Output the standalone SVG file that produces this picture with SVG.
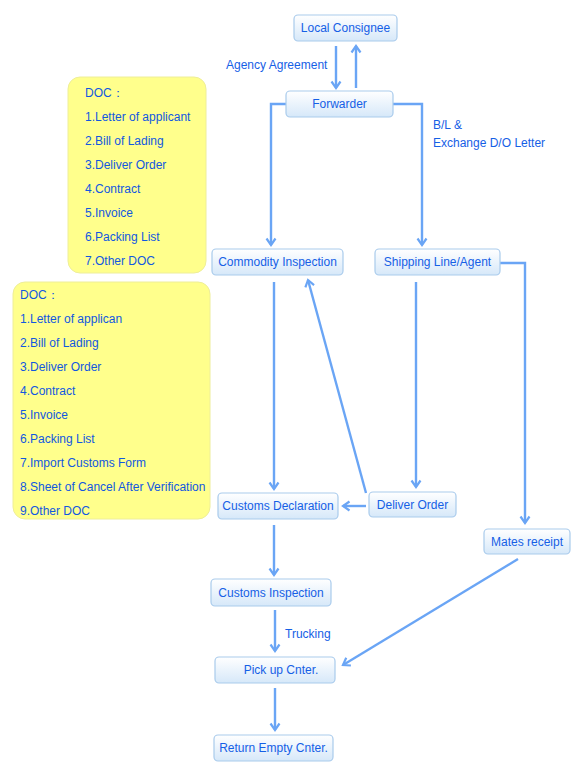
<svg xmlns="http://www.w3.org/2000/svg" width="582" height="779" viewBox="0 0 582 779">
<defs>
<linearGradient id="ng" x1="0" y1="0" x2="0" y2="1">
<stop offset="0" stop-color="#ffffff"/>
<stop offset="1" stop-color="#d6e8f9"/>
</linearGradient>
<marker id="ah" markerWidth="12" markerHeight="12" refX="9" refY="6" orient="auto" markerUnits="userSpaceOnUse">
<path d="M2.5,1.5 L9,6 L2.5,10.5" fill="none" stroke="#6aa5f5" stroke-width="2.2"/>
</marker>
<style>
.node rect{fill:url(#ng);stroke:#a9cbec;stroke-width:1.2}
.node text{font-family:"Liberation Sans",Arial,sans-serif;font-size:12px;fill:#1560e6;text-anchor:middle}
.doc rect{fill:#ffff8c;stroke:#eeee99;stroke-width:1}
.doc text{font-family:"Liberation Sans",Arial,sans-serif;font-size:12px;fill:#1158e0}
.lbl{font-family:"Liberation Sans",Arial,sans-serif;font-size:12px;fill:#1560e6}
.conn path{fill:none;stroke:#6aa5f5;stroke-width:2.4}
</style>
</defs>
<rect width="582" height="779" fill="#ffffff"/>

<g id="doc1" class="doc">
<rect x="68" y="77" width="138" height="196" rx="12" ry="12"/>
<text x="85" y="97">DOC：</text>
<text x="85" y="121">1.Letter of applicant</text>
<text x="85" y="145">2.Bill of Lading</text>
<text x="85" y="169">3.Deliver Order</text>
<text x="85" y="193">4.Contract</text>
<text x="85" y="217">5.Invoice</text>
<text x="85" y="241">6.Packing List</text>
<text x="85" y="265">7.Other DOC</text>
</g>

<g id="doc2" class="doc">
<rect x="13" y="282" width="197" height="237" rx="12" ry="12"/>
<text x="20" y="299">DOC：</text>
<text x="20" y="323">1.Letter of applican</text>
<text x="20" y="347">2.Bill of Lading</text>
<text x="20" y="371">3.Deliver Order</text>
<text x="20" y="395">4.Contract</text>
<text x="20" y="419">5.Invoice</text>
<text x="20" y="443">6.Packing List</text>
<text x="20" y="467">7.Import Customs Form</text>
<text x="20" y="491">8.Sheet of Cancel After Verification</text>
<text x="20" y="515">9.Other DOC</text>
</g>

<g id="connectors" class="conn">
<path d="M336,46 V88" marker-end="url(#ah)"/>
<path d="M356,88 V46" marker-end="url(#ah)"/>
<path d="M286,104 H271 V245" marker-end="url(#ah)"/>
<path d="M393,104 H422 V245" marker-end="url(#ah)"/>
<path d="M500,263 H525 V523" marker-end="url(#ah)"/>
<path d="M274,282 V489" marker-end="url(#ah)"/>
<path d="M416,282 V487" marker-end="url(#ah)"/>
<path d="M366,493 L308,280" marker-end="url(#ah)"/>
<path d="M366,506 H343" marker-end="url(#ah)"/>
<path d="M274,525 V575" marker-end="url(#ah)"/>
<path d="M275,610 V651" marker-end="url(#ah)"/>
<path d="M518,559 L343,665" marker-end="url(#ah)"/>
<path d="M275,688 V730" marker-end="url(#ah)"/>
</g>

<text class="lbl" x="226" y="69">Agency Agreement</text>
<text class="lbl" x="433" y="129">B/L &amp;</text>
<text class="lbl" x="433" y="147">Exchange D/O Letter</text>
<text class="lbl" x="285" y="638">Trucking</text>

<g id="local-consignee" class="node">
<rect x="294" y="15" width="103" height="26" rx="4"/>
<text x="345.5" y="32">Local Consignee</text>
</g>
<g id="forwarder" class="node">
<rect x="286" y="91" width="107" height="26" rx="4"/>
<text x="339.5" y="108">Forwarder</text>
</g>
<g id="commodity-inspection" class="node">
<rect x="212" y="249" width="131" height="26" rx="4"/>
<text x="277.5" y="266">Commodity Inspection</text>
</g>
<g id="shipping-line" class="node">
<rect x="375" y="249" width="125" height="26" rx="4"/>
<text x="437.5" y="266">Shipping Line/Agent</text>
</g>
<g id="customs-declaration" class="node">
<rect x="218" y="493" width="120" height="26" rx="4"/>
<text x="278" y="510">Customs Declaration</text>
</g>
<g id="deliver-order" class="node">
<rect x="369" y="492" width="87" height="25" rx="4"/>
<text x="412.5" y="509">Deliver Order</text>
</g>
<g id="mates-receipt" class="node">
<rect x="484" y="529" width="86" height="25" rx="4"/>
<text x="527" y="546">Mates receipt</text>
</g>
<g id="customs-inspection" class="node">
<rect x="211" y="579" width="120" height="27" rx="4"/>
<text x="271" y="597">Customs Inspection</text>
</g>
<g id="pick-up" class="node">
<rect x="215" y="657" width="120" height="26" rx="4"/>
<text x="281" y="674">Pick up Cnter.</text>
</g>
<g id="return-empty" class="node">
<rect x="214" y="735" width="119" height="26" rx="4"/>
<text x="273.5" y="752">Return Empty Cnter.</text>
</g>
</svg>
